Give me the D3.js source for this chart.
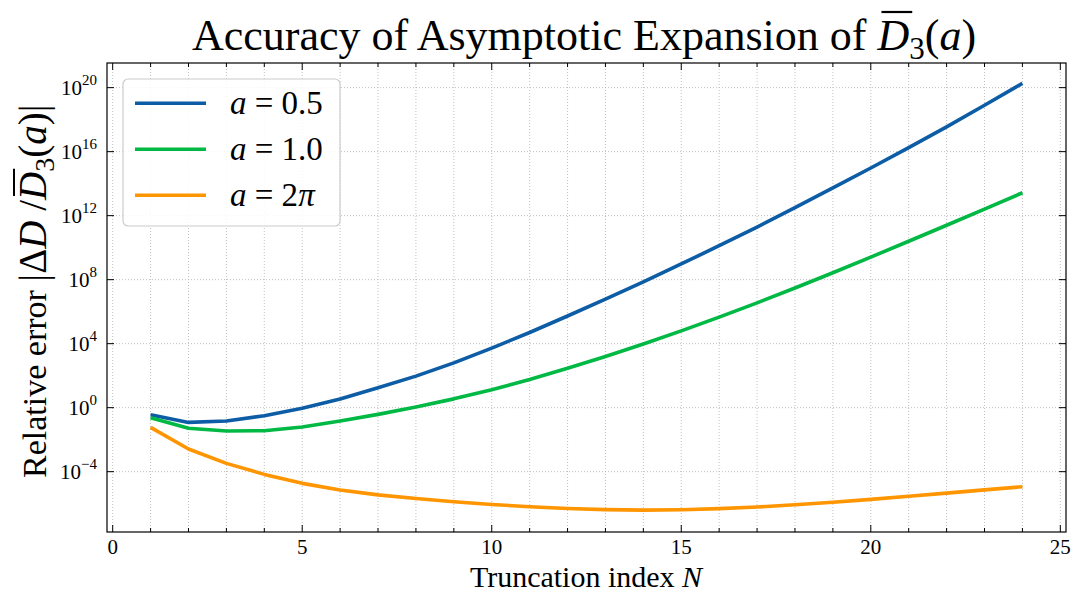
<!DOCTYPE html>
<html><head><meta charset="utf-8">
<script src="https://cdn.jsdelivr.net/npm/d3@7"></script>
<style>body{margin:0;background:#fff}svg{display:block}</style>
</head><body>
<svg id="c" width="1080" height="594"></svg>
<script>
const N = d3.range(1, 25);
// log10 of relative error
const logA05 = [-0.44,-0.92,-0.83,-0.5,-0.04,0.54,1.25,1.97,2.8,3.72,4.7,5.73,6.78,7.86,8.98,10.12,11.29,12.5,13.73,14.98,16.25,17.55,18.9,20.27];
const logA10 = [-0.63,-1.29,-1.46,-1.44,-1.21,-0.83,-0.42,0.04,0.55,1.12,1.76,2.46,3.2,3.98,4.8,5.66,6.55,7.48,8.43,9.41,10.4,11.4,12.41,13.43];
const logA2pi = [-1.23,-2.58,-3.48,-4.17,-4.73,-5.15,-5.45,-5.68,-5.88,-6.05,-6.19,-6.3,-6.37,-6.4,-6.38,-6.31,-6.21,-6.07,-5.91,-5.73,-5.54,-5.34,-5.14,-4.94];
const seriesNames = ["0.5","1.0","2π"];
const seriesColors = ["#0C5DA5","#00B945","#FF9500"];
const xTicks = [0,5,10,15,20,25];
const yTickExp = [-4,0,4,8,12,16,20];

const series = [logA05, logA10, logA2pi].map((arr,i)=>({name:seriesNames[i], color:seriesColors[i], pts:arr.map((v,j)=>({n:N[j], y:Math.pow(10,v)}))}));

const svg = d3.select("#c");
const L=107, R=1066, T=63, B=532;
const x = d3.scaleLinear().domain([-0.15,25.15]).range([L,R]);
const y = d3.scaleLog().domain([Math.pow(10,-7.77),Math.pow(10,21.54)]).range([B,T]);
const serif = "'Liberation Serif','DejaVu Serif',serif";

// grid
const grid = svg.append("g").attr("stroke","#b0b0b0").attr("stroke-width",0.8).attr("stroke-dasharray","1,2");
d3.range(0,26).forEach(v=>{grid.append("line").attr("x1",x(v)).attr("x2",x(v)).attr("y1",T).attr("y2",B);});
yTickExp.forEach(e=>{grid.append("line").attr("x1",L).attr("x2",R).attr("y1",y(Math.pow(10,e))).attr("y2",y(Math.pow(10,e)));});

// lines
const line = d3.line().x(d=>x(d.n)).y(d=>y(d.y));
series.forEach(s=>{
  svg.append("path").datum(s.pts).attr("d",line).attr("fill","none").attr("stroke",s.color).attr("stroke-width",3.6).attr("stroke-linejoin","round");
});

// axes with inward ticks
const ax = svg.append("g").attr("stroke","#000");
ax.append("rect").attr("x",L).attr("y",T).attr("width",R-L).attr("height",B-T).attr("fill","none").attr("stroke-width",1.2);
d3.range(0,26).forEach(v=>{
  const len = v%5===0?7:4;
  ax.append("line").attr("x1",x(v)).attr("x2",x(v)).attr("y1",B).attr("y2",B-len).attr("stroke-width",1);
  ax.append("line").attr("x1",x(v)).attr("x2",x(v)).attr("y1",T).attr("y2",T+len).attr("stroke-width",1);
});
yTickExp.forEach(e=>{
  const yy=y(Math.pow(10,e));
  ax.append("line").attr("x1",L).attr("x2",L+7).attr("y1",yy).attr("y2",yy).attr("stroke-width",1);
  ax.append("line").attr("x1",R).attr("x2",R-7).attr("y1",yy).attr("y2",yy).attr("stroke-width",1);
});

// tick labels
const tl = svg.append("g").attr("font-family",serif).attr("fill","#000");
xTicks.forEach(v=>{
  tl.append("text").attr("x",x(v)).attr("y",554).attr("text-anchor","middle").attr("font-size",21).text(v);
});
yTickExp.forEach(e=>{
  const t = tl.append("text").attr("x",97).attr("y",y(Math.pow(10,e))+7).attr("text-anchor","end").attr("font-size",21);
  t.append("tspan").text("10");
  t.append("tspan").attr("dy",-10).attr("font-size",15).text(e<0?"−"+Math.abs(e):String(e));
});

// title
const title = svg.append("text").attr("x",584).attr("y",50).attr("text-anchor","middle").attr("font-family",serif).attr("font-size",44);
title.append("tspan").text("Accuracy of Asymptotic Expansion of ");
title.append("tspan").attr("font-style","italic").text("D");
title.append("tspan").attr("font-size",31).attr("dy",9).text("3");
title.append("tspan").attr("dy",-9).text("(");
title.append("tspan").attr("font-style","italic").text("a");
title.append("tspan").text(")");
{
  const n = title.node();
  const st = n.getStartPositionOfChar(36), en = n.getEndPositionOfChar(36);
  svg.append("line").attr("x1",st.x+4).attr("x2",en.x+3).attr("y1",12).attr("y2",12).attr("stroke","#000").attr("stroke-width",2.2);
}

// x label
const xl = svg.append("text").attr("x",586).attr("y",587).attr("text-anchor","middle").attr("font-family",serif).attr("font-size",30);
xl.append("tspan").text("Truncation index ");
xl.append("tspan").attr("font-style","italic").text("N");

// y label
const ylT = "translate(46,478) rotate(-90)";
const yl = svg.append("text").attr("transform",ylT).attr("text-anchor","start").attr("font-family",serif).attr("font-size",34);
yl.append("tspan").text("Relative error ");
yl.append("tspan").attr("font-size",39).text("|Δ");
yl.append("tspan").attr("font-size",39).attr("font-style","italic").text("D");
yl.append("tspan").attr("font-size",39).text(" /");
yl.append("tspan").attr("font-size",39).attr("font-style","italic").text("D");
yl.append("tspan").attr("font-size",28).attr("dy",8).text("3");
yl.append("tspan").attr("font-size",39).attr("dy",-8).text("(");
yl.append("tspan").attr("font-size",39).attr("font-style","italic").text("a");
yl.append("tspan").attr("font-size",39).text(")|");
{
  const n = yl.node();
  const idx = "Relative error |ΔD /".length;
  const st = n.getStartPositionOfChar(idx), en = n.getEndPositionOfChar(idx);
  svg.append("line").attr("transform",ylT)
    .attr("x1",st.x+4).attr("x2",en.x+3).attr("y1",-32).attr("y2",-32).attr("stroke","#000").attr("stroke-width",2);
}

// legend
const lg = svg.append("g");
lg.append("rect").attr("x",123).attr("y",79).attr("width",217).attr("height",147).attr("rx",5).attr("fill","#fff").attr("fill-opacity",0.85).attr("stroke","#cccccc").attr("stroke-width",1.2);
series.forEach((s,i)=>{
  const yy = 103.3 + i*46;
  lg.append("line").attr("x1",135).attr("x2",206).attr("y1",yy).attr("y2",yy).attr("stroke",s.color).attr("stroke-width",3.6);
  const t = lg.append("text").attr("x",230).attr("y",yy+11).attr("font-family",serif).attr("font-size",33);
  t.append("tspan").attr("font-style","italic").text("a");
  t.append("tspan").text(" = " + (s.name==="2π" ? "2" : s.name));
  if (s.name==="2π") t.append("tspan").attr("font-style","italic").text("π");
});
</script>
</body></html>
